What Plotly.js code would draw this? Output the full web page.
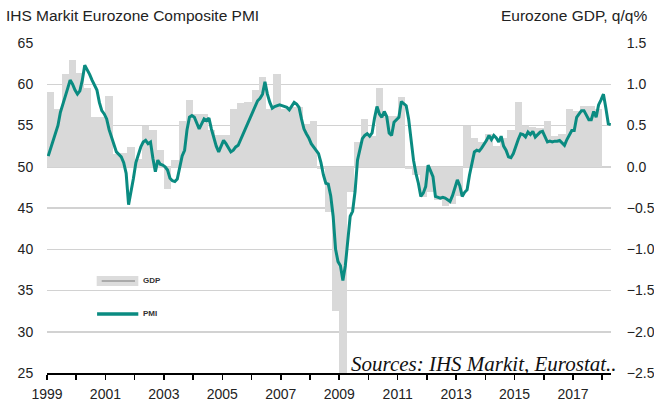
<!DOCTYPE html>
<html>
<head>
<meta charset="utf-8">
<script src="https://cdn.plot.ly/plotly-3.0.1.min.js"></script>
<style>html,body{margin:0;padding:0;background:#fff;}#chart{width:654px;height:401px;}</style>
</head>
<body>
<div id="chart"></div>
<script>
// Monthly IHS Markit Eurozone Composite PMI, Jan 1999 - Apr 2018
const pmiStartYear = 1999;
const pmi = [
  51.3, 52.2, 53.0, 53.9, 55.0, 56.6, 57.5, 58.5, 59.5, 60.5, 60.0, 59.3,
  58.8, 59.2, 60.5, 62.3, 61.8, 61.2, 60.5, 59.9, 59.3, 57.8, 56.8, 56.4,
  55.8, 54.5, 53.6, 52.5, 51.8, 51.5, 51.2, 50.5, 49.2, 45.4, 46.8, 48.6,
  50.5, 51.5, 52.4, 53.0, 53.2, 52.8, 53.0, 51.0, 49.4, 50.8, 50.3, 50.2,
  50.0, 49.6, 48.6, 48.3, 48.2, 48.5, 50.0, 51.3, 52.0, 54.5, 56.0, 56.2,
  56.0, 55.2, 54.6, 55.2, 55.8, 55.6, 55.9, 54.6, 53.5, 52.5, 51.8, 52.6,
  53.2, 52.8, 52.2, 51.8, 52.0, 52.4, 52.6, 53.3, 53.9, 54.5, 55.2, 56.0,
  56.8, 57.4, 58.0, 58.3, 58.8, 60.3, 58.8, 57.8, 57.1, 57.3, 57.4, 57.5,
  57.4, 57.3, 57.2, 56.9, 57.3, 57.8, 57.6, 57.2, 55.8, 54.6, 54.0, 53.5,
  52.8, 52.4, 52.0, 51.6, 50.5, 49.0, 48.0, 47.9, 46.5, 44.0, 40.0, 38.5,
  38.0, 36.2, 38.0, 41.0, 44.0, 44.6, 47.0, 50.8, 52.2, 53.4, 53.8, 54.0,
  53.7, 54.1, 55.9, 57.3, 56.4, 56.0, 56.7, 56.1, 54.1, 53.8, 55.4, 55.7,
  56.0, 57.9, 57.7, 57.4, 55.8, 53.3, 50.8, 49.2, 48.0, 46.4, 46.8, 47.6,
  50.2, 49.5, 48.8, 46.4, 46.3, 46.2, 46.3, 46.2, 46.0, 45.8, 46.5, 47.5,
  48.4, 47.7, 46.4, 46.9, 47.2, 49.0, 50.4, 51.8, 52.0, 51.9, 52.3, 52.7,
  53.2, 53.8, 53.3, 53.8, 53.5, 53.0, 53.7, 52.5, 52.0, 51.2, 51.1, 51.6,
  52.6, 53.3, 54.0, 53.9, 53.6, 54.2, 53.9, 54.3, 53.6, 53.9, 54.2, 54.3,
  53.6, 53.0, 53.1, 53.0, 53.1, 53.1, 53.2, 52.9, 52.6, 53.3, 53.9, 54.4,
  54.4, 56.0, 56.4, 56.8, 56.8, 56.3, 55.7, 55.7, 56.7, 56.0, 57.5, 58.1,
  58.8, 57.1, 55.2, 55.1
];

// Quarterly Eurozone GDP q/q %, 1999Q1 - 2017Q4
const gdpStartYear = 1999;
const gdp = [
  0.91, 0.70, 1.13, 1.29,
  1.14, 0.96, 0.60, 0.60,
  0.86, 0.15, 0.17, 0.24,
  0.10, 0.49, 0.45, 0.20,
  -0.27, 0.08, 0.55, 0.81,
  0.64, 0.64, 0.45, 0.39,
  0.39, 0.70, 0.77, 0.78,
  0.93, 1.09, 0.70, 1.13,
  0.70, 0.73, 0.73, 0.52,
  0.56, -0.03, -0.55, -1.75,
  -2.90, -0.31, 0.30, 0.58,
  0.37, 0.96, 0.62, 0.62,
  0.84, -0.03, -0.10, -0.37,
  -0.30, -0.40, -0.47, -0.45,
  -0.35, 0.50, 0.35, 0.30,
  0.40, 0.25, 0.35, 0.45,
  0.78, 0.50, 0.48, 0.47,
  0.56, 0.37, 0.40, 0.70,
  0.68, 0.74, 0.74, 0.70
];

const yearTicks = [1999,2000,2001,2002,2003,2004,2005,2006,2007,2008,2009,2010,2011,2012,2013,2014,2015,2016,2017,2018];
const yearLabels = ['1999','','2001','','2003','','2005','','2007','','2009','','2011','','2013','','2015','','2017',''];

const titleLeft = 'IHS Markit Eurozone Composite PMI';
const titleRight = 'Eurozone GDP, q/q%';
const sourceText = 'Sources: IHS Markit, Eurostat..';

const monthX = pmi.map((_, i) => pmiStartYear + (i + 0.5) / 12);
const quarterX = gdp.map((_, i) => gdpStartYear + (i + 0.5) / 4);

const TEAL = '#0a8b81';
const BARGREY = '#d9d9d9';
const FONT = 'Liberation Sans, Arial, Helvetica, sans-serif';

const traces = [
  {
    type: 'bar', name: 'GDP', x: quarterX, y: gdp, yaxis: 'y',
    width: 0.25, marker: {color: BARGREY, line: {width: 0}}, hoverinfo: 'skip'
  },
  {
    type: 'scatter', mode: 'lines', name: 'PMI', x: monthX, y: pmi, yaxis: 'y2',
    line: {color: TEAL, width: 3}, hoverinfo: 'skip'
  }
];

const layout = {
  width: 654, height: 401,
  margin: {l: 47, r: 43, t: 43, b: 28, pad: 0},
  paper_bgcolor: '#fff', plot_bgcolor: '#fff',
  font: {family: FONT, color: '#222', size: 14},
  showlegend: false,
  bargap: 0,
  title: {
    text: titleLeft, x: 0.009, xref: 'container', xanchor: 'left',
    y: 0.962, yref: 'container', yanchor: 'middle',
    font: {family: FONT, size: 15.5, color: '#222'}
  },
  xaxis: {
    range: [1999, 2018.3], tickmode: 'array', tickvals: yearTicks, ticktext: yearLabels,
    ticks: 'outside', ticklen: 5, tickwidth: 1.5, tickcolor: '#000',
    ticklabelstandoff: 3,
    showline: true, linecolor: '#000', linewidth: 1.5,
    showgrid: false, zeroline: false, tickfont: {size: 14, color: '#222'}
  },
  yaxis: {
    side: 'right', range: [-2.5, 1.5], tick0: -2.5, dtick: 0.5, tickformat: '.1f',
    showgrid: true, gridcolor: '#d2d2d2', gridwidth: 1.5, zeroline: false,
    ticks: 'outside', ticklen: 12, tickcolor: 'rgba(0,0,0,0)',
    tickfont: {size: 14, color: '#222'}, showline: false
  },
  yaxis2: {
    overlaying: 'y', side: 'left', range: [25, 65], tick0: 25, dtick: 5,
    showgrid: false, zeroline: false,
    ticks: 'outside', ticklen: 10, tickcolor: 'rgba(0,0,0,0)',
    tickfont: {size: 14, color: '#222'}, showline: false
  },
  shapes: [
    {type: 'rect', xref: 'paper', yref: 'paper', x0: 0.0881, x1: 0.1619, y0: 0.2636, y1: 0.2939,
     fillcolor: '#dcdcdc', line: {width: 0}},
    {type: 'line', xref: 'paper', yref: 'paper', x0: 0.0970, x1: 0.1560, y0: 0.2788, y1: 0.2788,
     line: {color: '#9a9a9a', width: 1.5}},
    {type: 'line', xref: 'paper', yref: 'paper', x0: 0.0888, x1: 0.1619, y0: 0.1788, y1: 0.1788,
     line: {color: TEAL, width: 3.5}}
  ],
  annotations: [
    {text: titleRight, xref: 'paper', yref: 'paper', x: 1.0674, y: 1.0833,
     xanchor: 'right', yanchor: 'middle', showarrow: false,
     font: {family: FONT, size: 15.5, color: '#222'}},
    {text: '<b>GDP</b>', xref: 'paper', yref: 'paper', x: 0.1658, y: 0.2788,
     xanchor: 'left', yanchor: 'middle', showarrow: false,
     font: {family: FONT, size: 8, color: '#333'}},
    {text: '<b>PMI</b>', xref: 'paper', yref: 'paper', x: 0.1658, y: 0.1788,
     xanchor: 'left', yanchor: 'middle', showarrow: false,
     font: {family: FONT, size: 8, color: '#333'}},
    {text: '<i>' + sourceText + '</i>', xref: 'paper', yref: 'paper', x: 0.5355, y: 0.027,
     xanchor: 'left', yanchor: 'middle', showarrow: false,
     font: {family: 'Liberation Serif, Times New Roman, serif', size: 21, color: '#111'}}
  ]
};

Plotly.newPlot('chart', traces, layout, {displayModeBar: false, staticPlot: true});
</script>
</body>
</html>
